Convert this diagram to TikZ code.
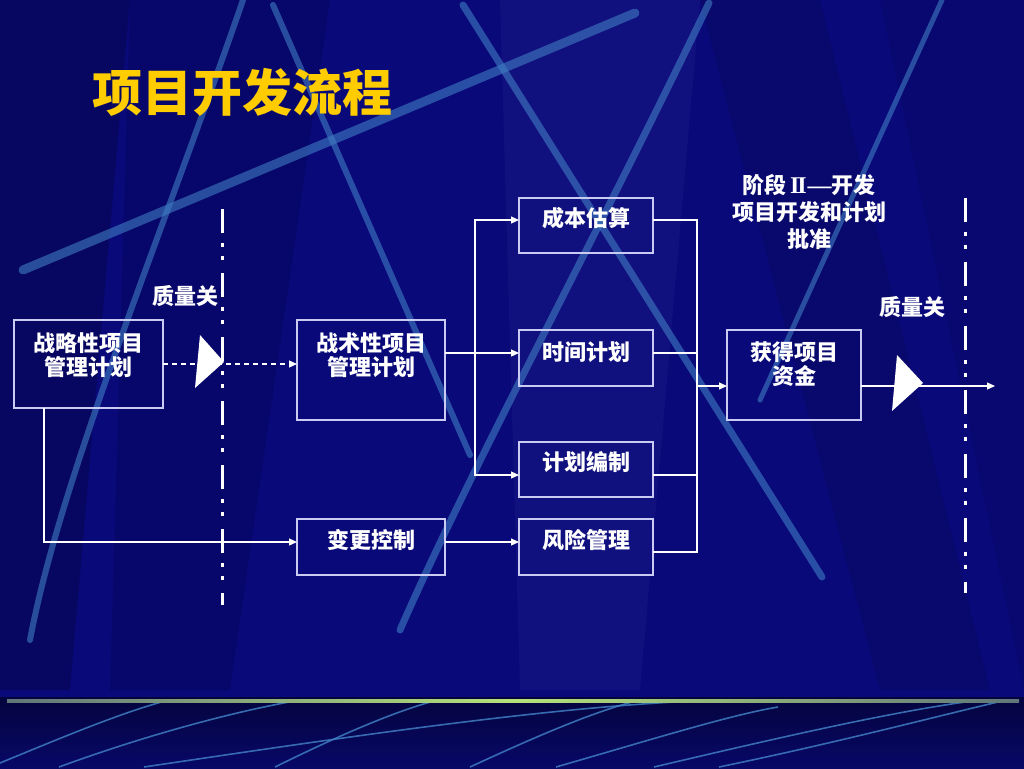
\documentclass[tikz,border=0pt]{standalone}
\usepackage{fontspec}
\newfontfamily\cjk{Noto Sans CJK SC}
\newfontfamily\serifroman{Liberation Serif}
\usetikzlibrary{arrows.meta,calc}
\definecolor{bgblue}{HTML}{09097A}
\definecolor{bgdark}{HTML}{05054E}
\definecolor{streakc}{HTML}{3F7DC2}
\definecolor{boxline}{HTML}{C9CBF2}
\definecolor{titlegold}{HTML}{FFCC00}
\definecolor{lime}{HTML}{B6E27A}
\begin{document}
\begin{tikzpicture}[x=1pt,y=-1pt,
  box/.style={draw=boxline,line width=1.3pt,inner sep=0pt,outer sep=0pt,anchor=north west},
  boxtext/.style={text=white,font=\cjk\bfseries\fontsize{22}{24}\selectfont,align=center,inner sep=0pt},
  conn/.style={draw=white,line width=1.2pt,-{Triangle[length=8pt,width=7pt]}},
  plain/.style={draw=white,line width=1.2pt},
  gate/.style={draw=white,line width=3pt,dash pattern=on 24pt off 10pt on 4pt off 9pt on 4pt off 13pt},
  streak/.style={draw=streakc,opacity=0.6,line cap=round},
  wave/.style={draw=streakc,line width=1.6pt,opacity=0.85}]
\useasboundingbox (0,0) rectangle (1024,768);
% background
\fill[bgblue] (0,0) rectangle (1024,768);
\fill[black,opacity=0.2] (0,0) -- (130,0) -- (70,690) -- (0,690) -- cycle;
\fill[black,opacity=0.12] (130,0) -- (330,0) -- (230,690) -- (110,690) -- cycle;
\fill[black,opacity=0.10] (700,0) -- (820,0) -- (990,690) -- (880,690) -- cycle;
\fill[black,opacity=0.08] (880,0) -- (1024,0) -- (1024,690) -- cycle;
\fill[white,opacity=0.03] (500,0) -- (700,0) -- (640,690) -- (520,690) -- cycle;
% streaks
\draw[streak,line width=9pt] (23,270) -- (635,13);
\draw[streak,line width=6pt] (243,0) .. controls (160,240) and (60,480) .. (30,640);
\draw[streak,line width=6pt] (273,5) -- (470,455);
\draw[streak,line width=7pt] (463,5) -- (822,577);
\draw[streak,line width=7pt] (709,3) .. controls (600,230) and (470,470) .. (400,630);
\draw[streak,line width=5pt] (942,0) -- (760,400);
% bottom band
\shade[top color=bgdark!80!black,bottom color=bgblue!85!black] (0,697) rectangle (1024,768);
\begin{scope}
\clip (0,702) rectangle (1024,768);
\draw[wave] (0,763) .. controls (80,730) and (140,705) .. (190,695);
\draw[wave] (59,767) .. controls (160,730) and (260,705) .. (320,697);
\draw[wave] (144,767) .. controls (360,735) and (560,705) .. (719,700);
\draw[wave] (275,767) .. controls (350,730) and (410,705) .. (451,697);
\draw[wave] (470,767) .. controls (550,730) and (610,705) .. (654,697);
\draw[wave] (556,767) .. controls (650,740) and (730,715) .. (778,707);
\draw[wave] (654,767) .. controls (790,735) and (900,710) .. (980,700);
\draw[wave] (719,767) .. controls (850,740) and (960,710) .. (1020,697);
\end{scope}
\shade[left color=bgblue!50!lime,right color=bgblue!50!lime,middle color=lime] (7,699.5) rectangle (1019,702.5);
% title
\node[text=titlegold,font=\cjk\bfseries\fontsize{50}{52}\selectfont,inner sep=0pt] (title) at (242,92) {项目开发流程};
% boxes
\node[box,minimum width=149pt,minimum height=88pt] (A) at (14,320) {};
\node[box,minimum width=148pt,minimum height=100pt] (B) at (297,320) {};
\node[box,minimum width=134pt,minimum height=55pt] (C) at (519,198) {};
\node[box,minimum width=134pt,minimum height=56pt] (D) at (519,330) {};
\node[box,minimum width=134pt,minimum height=55pt] (E) at (519,442) {};
\node[box,minimum width=134pt,minimum height=56pt] (F) at (519,519) {};
\node[box,minimum width=148pt,minimum height=56pt] (G) at (297,519) {};
\node[box,minimum width=134pt,minimum height=90pt] (H) at (727,330) {};
% box texts
\node[boxtext] (At) at (88,355) {战略性项目\\管理计划};
\node[boxtext] (Bt) at (371,355) {战术性项目\\管理计划};
\node[boxtext] (Ct) at (586,218) {成本估算};
\node[boxtext] (Dt) at (586,352) {时间计划};
\node[boxtext] (Et) at (586,462) {计划编制};
\node[boxtext] (Ft) at (586,540) {风险管理};
\node[boxtext] (Gt) at (371,540) {变更控制};
\node[boxtext] (Ht) at (794,364) {获得项目\\资金};
% labels
\node[boxtext] (q1) at (185,296) {质量关};
\node[boxtext] (q2) at (912,307) {质量关};
\node[text=white,font=\cjk\bfseries\fontsize{22}{27}\selectfont,align=center,inner sep=0pt] (phase) at (809,212)
  {阶段\,{\serifroman\fontsize{24}{24}\selectfont I\kern-2.2ptI\kern1pt—}开发\\项目开发和计划\\批准};
% gates
\coordinate (g1t) at (222,209); \coordinate (g1b) at (222,605);
\coordinate (g2t) at (965,198); \coordinate (g2b) at (965,593);
\draw[gate] (g1t) -- (g1b);
\draw[gate] (g2t) -- (g2b);
% connectors
\draw[conn,dash pattern=on 5pt off 4pt] (A.east) -- ([yshift=6pt]B.west);
\draw[conn] ([yshift=17pt]B.east) -- ([yshift=5pt]D.west);
\draw[conn] ([yshift=17pt,xshift=30pt]B.east) |- ([yshift=5.5pt]C.west);
\draw[conn] ([yshift=17pt,xshift=30pt]B.east) |- ([yshift=-5.5pt]E.west);
\draw[conn] ([xshift=-44.5pt]A.south) |- ([yshift=5pt]G.west);
\draw[conn] ([yshift=5pt]G.east) -- ([yshift=5pt]F.west);
\draw[plain] ([yshift=5.5pt]C.east) -- ++(44,0) |- ([yshift=-5pt]F.east);
\draw[plain] ([yshift=5pt]D.east) -- ++(44,0);
\draw[plain] ([yshift=-5.5pt]E.east) -- ++(44,0);
\draw[conn] ([yshift=-11pt,xshift=-30pt]H.west) -- ([yshift=-11pt]H.west);
\coordinate (out) at (995,386);
\draw[conn] ([yshift=-11pt]H.east) -- (out);
% quality gate triangles
\fill[white] (200,335) -- (224,362) -- (195,388) -- cycle;
\fill[white] (897,355) -- (923,383) -- (892,411) -- cycle;
\end{tikzpicture}
\end{document}
